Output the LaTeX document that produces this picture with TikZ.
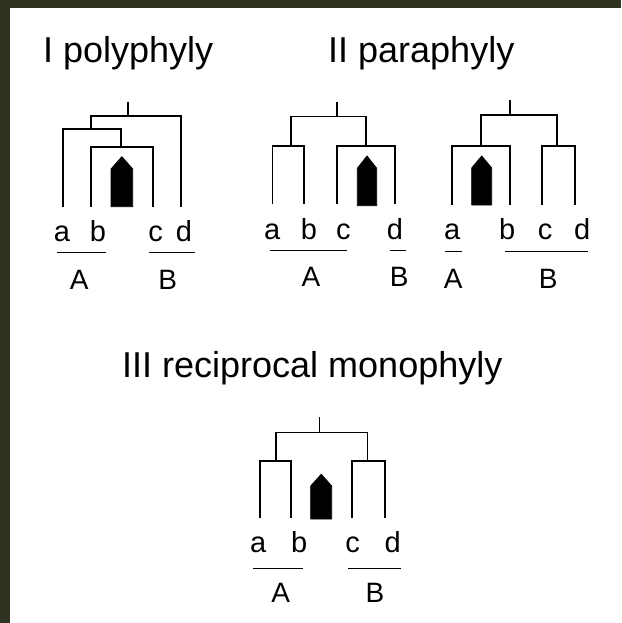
\documentclass[tikz,border=0pt]{standalone}
\usepackage{fontspec}
\setmainfont{Liberation Sans}
\definecolor{bgdark}{HTML}{2F3322}
\newcommand\pentblob[5]{\filldraw[blob] (#1,#5) -- (#1,#4) -- ({(#1+#2)/2},#3) -- (#2,#4) -- (#2,#5) -- cycle;}
\begin{document}
\begin{tikzpicture}[x=1pt,y=-1pt,
  br/.style={line width=1.6pt, black, line cap=butt},
  blob/.style={fill=black, draw=black, line width=0.8pt, line join=round},
  lbl/.style={anchor=base, inner sep=0pt, font=\fontsize{29}{32}\selectfont},
  grp/.style={anchor=base, inner sep=0pt, font=\fontsize{28}{32}\selectfont},
  ttl/.style={anchor=base west, inner sep=0pt, font=\fontsize{36}{40}\selectfont},
  ul/.style={line width=1.4pt, black}]
\useasboundingbox (0,0) rectangle (621,623);
\fill[bgdark] (0,0) rectangle (621,623);
\fill[white] (10,8) rectangle (621,623);

% titles
\node[ttl] (t1) at (43,63) {I polyphyly};
\node[ttl] (t2) at (328,63) {II paraphyly};
\node[ttl] (t3) at (122,377) {III reciprocal monophyly};

% ---------- Tree I (polyphyly)
\coordinate (pr) at (127.7,101.7);
\coordinate (pn1) at (127.7,116);
\coordinate (pn2) at (91,129);
\coordinate (pn3) at (121,146.7);
\coordinate (pa) at (62.7,206.7);
\coordinate (pb) at (91,206.7);
\coordinate (pc) at (152.7,206.7);
\coordinate (pd) at (181,206.7);
\draw[br] (pr) -- (pn1);
\draw[br] (pn2) |- (pn1) -| (pd);
\draw[br] (pa) |- (pn2) -| (pn3);
\draw[br] (pb) |- (pn3) -| (pc);
\pentblob{111}{132.7}{156.7}{169}{206.7}
\node[lbl] (pla) at (62,241.7) {a};
\node[lbl] (plb) at (98,241.7) {b};
\node[lbl] (plc) at (155.7,241.7) {c};
\node[lbl] (pld) at (184,241.7) {d};
\coordinate (pu1) at (56.7,252.7); \coordinate (pu2) at (106,252.7);
\coordinate (pu3) at (149,252.7); \coordinate (pu4) at (195,252.7);
\draw[ul] (pu1) -- (pu2);
\draw[ul] (pu3) -- (pu4);
\node[grp] (pA) at (79.3,289) {A};
\node[grp] (pB) at (167.7,289) {B};

% ---------- Tree II left (paraphyly)
\coordinate (qr) at (336.7,101.7);
\coordinate (qn1) at (336.7,116.7);
\coordinate (qn2) at (290.7,145.7);
\coordinate (qn3) at (366,145.7);
\coordinate (qa) at (272.3,204.3);
\coordinate (qb) at (304,204.3);
\coordinate (qc) at (336.7,204.3);
\coordinate (qd) at (395,204.3);
\draw[br] (qr) -- (qn1);
\draw[br] (qn2) |- (qn1) -| (qn3);
\draw[br] (qa) |- (qn2) -| (qb);
\draw[br] (qc) |- (qn3) -| (qd);
\pentblob{357.3}{376.7}{156}{168.3}{205.7}
\node[lbl] (qla) at (272.3,239) {a};
\node[lbl] (qlb) at (309,239) {b};
\node[lbl] (qlc) at (343.3,239) {c};
\node[lbl] (qld) at (395,239) {d};
\coordinate (qu1) at (270,250.7); \coordinate (qu2) at (347.3,250.7);
\coordinate (qu3) at (390,250.7); \coordinate (qu4) at (405.7,250.7);
\draw[ul] (qu1) -- (qu2);
\draw[ul] (qu3) -- (qu4);
\node[grp] (qA) at (311,286.7) {A};
\node[grp] (qB) at (399.3,286.7) {B};

% ---------- Tree II right (paraphyly)
\coordinate (rr) at (510,100);
\coordinate (rn1) at (510,115);
\coordinate (rn2) at (481,145.7);
\coordinate (rn3) at (556.7,145.7);
\coordinate (ra) at (451.7,205);
\coordinate (rb) at (510,205);
\coordinate (rc) at (541.7,205);
\coordinate (rd) at (575,205);
\draw[br] (rr) -- (rn1);
\draw[br] (rn2) |- (rn1) -| (rn3);
\draw[br] (ra) |- (rn2) -| (rb);
\draw[br] (rc) |- (rn3) -| (rd);
\pentblob{471.7}{491.7}{156}{168}{205}
\node[lbl] (rla) at (452.3,239) {a};
\node[lbl] (rlb) at (507.3,239) {b};
\node[lbl] (rlc) at (545,239) {c};
\node[lbl] (rld) at (582.3,239) {d};
\coordinate (ru1) at (445,251.7); \coordinate (ru2) at (461.7,251.7);
\coordinate (ru3) at (505,251.7); \coordinate (ru4) at (587.7,251.7);
\draw[ul] (ru1) -- (ru2);
\draw[ul] (ru3) -- (ru4);
\node[grp] (rA) at (453.3,288) {A};
\node[grp] (rB) at (548.3,288) {B};

% ---------- Tree III (reciprocal monophyly)
\coordinate (sr) at (319.3,417.3);
\coordinate (sn1) at (319.3,432.3);
\coordinate (sn2) at (275.7,461);
\coordinate (sn3) at (367.3,461);
\coordinate (sa) at (260,518.3);
\coordinate (sb) at (291,518.3);
\coordinate (sc) at (351.7,518.3);
\coordinate (sd) at (385,518.3);
\draw[br] (sr) -- (sn1);
\draw[br] (sn2) |- (sn1) -| (sn3);
\draw[br] (sa) |- (sn2) -| (sb);
\draw[br] (sc) |- (sn3) -| (sd);
\pentblob{310.7}{331.7}{474.3}{486}{519}
\node[lbl] (sla) at (258.3,552.7) {a};
\node[lbl] (slb) at (299.3,552.7) {b};
\node[lbl] (slc) at (352.7,552.7) {c};
\node[lbl] (sld) at (392.7,552.7) {d};
\coordinate (su1) at (253.3,568.3); \coordinate (su2) at (303.3,568.3);
\coordinate (su3) at (348.3,568.3); \coordinate (su4) at (400.7,568.3);
\draw[ul] (su1) -- (su2);
\draw[ul] (su3) -- (su4);
\node[grp] (sA) at (280.7,602.7) {A};
\node[grp] (sB) at (375,602.7) {B};
\end{tikzpicture}
\end{document}
